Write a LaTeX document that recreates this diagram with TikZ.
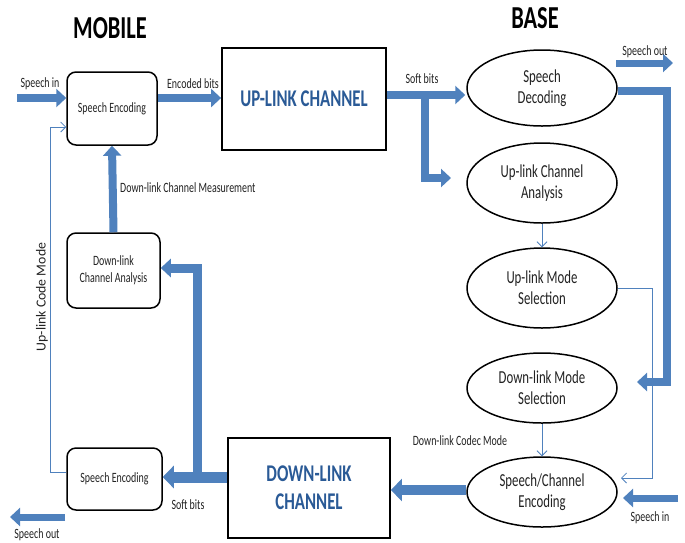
\documentclass[tikz,border=0pt]{standalone}
\usepackage{fontspec}
\setmainfont{Carlito}[FakeStretch=0.7]
\newfontfamily\rotfont{Carlito}
\usetikzlibrary{arrows.meta,shapes.geometric}
\definecolor{ablue}{HTML}{4F81BD}
\definecolor{chblue}{HTML}{2A5A96}
\definecolor{txt}{HTML}{222222}
\begin{document}
\begin{tikzpicture}[x=1pt,y=-1pt,
  lbl/.style={font=\fontsize{14.2}{16}\selectfont, text=txt, inner sep=0pt},
  title/.style={font=\bfseries\fontsize{32}{34}\selectfont, text=black, inner sep=0pt},
  rbox/.style={draw, line width=1.5pt, rounded corners=9pt, align=center,
    font=\fontsize{14.2}{17}\selectfont, text=txt, inner sep=2pt},
  chan/.style={draw, line width=1.8pt, align=center, text=chblue,
    font=\bfseries\fontsize{24}{28}\selectfont, inner sep=2pt},
  ell/.style={ellipse, draw, line width=1.5pt, align=center, text=txt,
    font=\fontsize{18.3}{21}\selectfont, inner sep=0pt, minimum width=150pt},
  fat/.style={draw=ablue, line width=#1, line join=miter,
    -{Triangle[length=10pt,width=18pt]}},
  fat/.default=8pt,
  thinar/.style={draw=ablue, line width=0.8pt,
    -{Straight Barb[length=5pt,width=10pt]}}
]
\useasboundingbox (0,0) rectangle (685,542);

% titles
\node[title] (tmob) at (110,28) {MOBILE};
\node[title] (tbase) at (535,18) {BASE};

% mobile side boxes
\node[rbox, minimum width=90pt, minimum height=73pt] (se1) at (112,108.5) {Speech Encoding};
\node[rbox, minimum width=93pt, minimum height=75pt] (dca) at (113.5,270.5) {Down-link\\Channel Analysis};
\node[rbox, minimum width=95pt, minimum height=62pt] (se2) at (114.5,479) {Speech Encoding};

% channels
\node[chan, minimum width=164pt, minimum height=102pt] (upch) at (304,99) {UP-LINK CHANNEL};
\node[chan, minimum width=162pt, minimum height=100pt] (dch) at (309,488) {DOWN-LINK\\CHANNEL};

% base side ellipses
\node[ell, minimum height=76pt] (sdec) at (542,88) {Speech\\Decoding};
\node[ell, minimum height=80pt] (uca) at (542,183) {Up-link Channel\\Analysis};
\node[ell, minimum height=80pt] (ums) at (542,288) {Up-link Mode\\Selection};
\node[ell, minimum height=70pt] (dms) at (542,388) {Down-link Mode\\Selection};
\node[ell, minimum height=70pt] (sce) at (542,492) {Speech/Channel\\Encoding};

% coordinates
\coordinate (spin) at (17,98);
\coordinate (sbr) at (425,95);
\coordinate (sbrend) at (451,178);
\coordinate (sout1a) at (616,63);
\coordinate (sout1b) at (673,63);
\coordinate (bigturn) at (667,382);
\coordinate (bigend) at (637,382);
\coordinate (umsturn) at (652,478);
\coordinate (umsend) at (621,478);
\coordinate (spin2a) at (678,498);
\coordinate (spin2b) at (623,498);
\coordinate (dlup) at (197,268);
\coordinate (dlbot) at (197,477);
\coordinate (ucturn) at (50,127);
\coordinate (sout2a) at (65,517);
\coordinate (sout2b) at (10,517);

% fat arrows
\draw[fat] (spin) -- (spin -| se1.west);
\draw[fat] (se1.east |- spin) -- (upch.west |- spin);
\draw[fat] (upch.east |- sbr) -- ([xshift=-1pt]sdec.west |- sbr);
\draw[fat, -] (sbr) -- (sbr |- sbrend);
\draw[fat] ([yshift=-4pt]sbr |- sbrend) |- (sbrend);
\draw[fat=7pt] (sout1a) -- (sout1b);
\draw[fat, -] (sdec.east |- 0,91) -| (bigturn);
\draw[fat] ([yshift=4pt]bigturn) |- (bigend);
\draw[fat=7pt] (spin2a) -- (spin2b);
\draw[fat=10pt, -{Triangle[length=11pt,width=22pt]}] (sce.west |- 0,490) -- (dch.east |- 0,490);
\draw[fat=11pt, -{Triangle[length=11pt,width=22pt]}] (dch.west |- dlbot) -- (se2.east |- dlbot);
\draw[fat=9pt, -] (dlbot) -- (dlup);
\draw[fat=9pt] ([yshift=4.5pt]dlup) |- (dca.east |- dlup);
\draw[fat] (dca.north) -- (se1.south);
\draw[fat=7pt] (sout2a) -- (sout2b);

% thin arrows
\draw[thinar] (uca.south) -- (ums.north);
\draw[thinar] (dms.south) -- (sce.north);
\draw[thinar] (ums.east) -| (umsturn) -- (umsend);
\draw[thinar] (se2.west |- 0,472) -| (ucturn) -- (ucturn -| se1.west);

% labels
\node[lbl] (l1) at (40,84) {Speech in};
\node[lbl] (l2) at (193,84) {Encoded bits};
\node[lbl] (l3) at (422,79) {Soft bits};
\node[lbl] (l4) at (645,52) {Speech out};
\node[lbl, anchor=west] (l5) at (120,188) {Down-link Channel Measurement};
\node[lbl, font=\rotfont\fontsize{13.8}{15}\selectfont, rotate=90] (l6) at (42,297) {Up-link Code Mode};
\node[lbl] (l7) at (460,441) {Down-link Codec Mode};
\node[lbl] (l8) at (188,505) {Soft bits};
\node[lbl] (l9) at (37,535) {Speech out};
\node[lbl] (l10) at (650,518) {Speech in};
\end{tikzpicture}
\end{document}
